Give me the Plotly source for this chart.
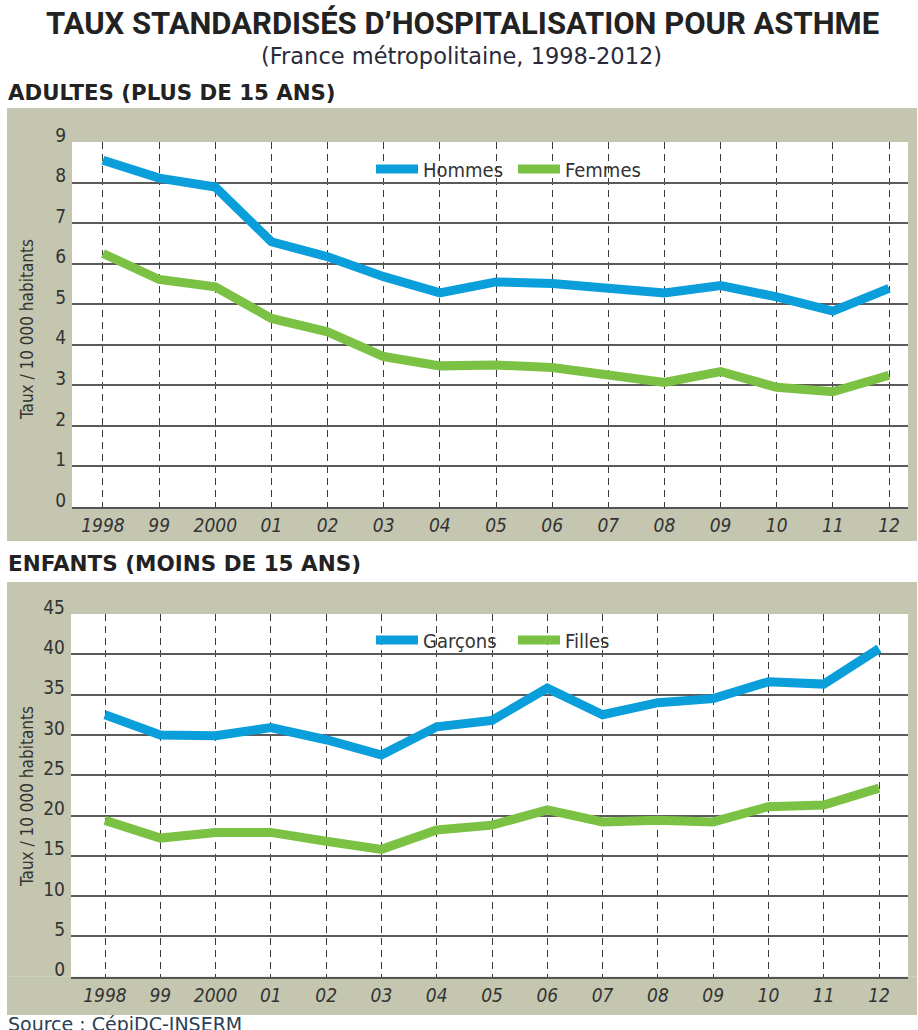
import plotly.graph_objects as go

# ---------------- data ----------------
years = list(range(1998, 2013))
year_labels = ["1998", "99", "2000", "01", "02", "03", "04", "05", "06", "07", "08", "09", "10", "11", "12"]

hommes = [8.55, 8.11, 7.89, 6.54, 6.17, 5.68, 5.28, 5.55, 5.51, 5.37, 5.28, 5.46, 5.18, 4.83, 5.39]
femmes = [6.25, 5.61, 5.43, 4.65, 4.32, 3.71, 3.48, 3.50, 3.44, 3.27, 3.07, 3.34, 2.95, 2.84, 3.25]

garcons = [32.5, 30.0, 29.9, 30.9, 29.4, 27.5, 31.0, 31.8, 35.8, 32.5, 34.0, 34.5, 36.6, 36.3, 40.7]
filles = [19.4, 17.2, 17.9, 17.9, 16.8, 15.8, 18.2, 18.8, 20.7, 19.2, 19.4, 19.2, 21.1, 21.3, 23.4]

adult_yticks = list(range(0, 10))
child_yticks = list(range(0, 50, 5))

# ---------------- style ----------------
W, H = 918, 1030
BLUE = "#0a9edb"
GREEN = "#7bc143"
PANEL = "#c4c6b0"
NARROW = "DejaVu Sans Condensed, sans-serif"
TXT = "#333333"

def px_x(p):
    return p / W

def px_y(p):
    return 1 - p / H

# plotting-area boxes in pixels: (left, right, top, bottom)
BOX1 = (72, 908, 142, 507)
BOX2 = (71, 908, 614, 976.7)
# gray frames in pixels
FRAME1 = (7, 917, 108, 541)
FRAME2 = (7, 917, 582, 1015)

def dom(box):
    l, r, t, b = box
    return [px_x(l), px_x(r)], [px_y(b), px_y(t)]

X1_DOM, Y1_DOM = dom(BOX1)
X2_DOM, Y2_DOM = dom(BOX2)

fig = go.Figure()

fig.add_trace(go.Scatter(x=years, y=hommes, name="Hommes", mode="lines",
                         line=dict(color=BLUE, width=9), xaxis="x", yaxis="y", legend="legend"))
fig.add_trace(go.Scatter(x=years, y=femmes, name="Femmes", mode="lines",
                         line=dict(color=GREEN, width=9), xaxis="x", yaxis="y", legend="legend"))
fig.add_trace(go.Scatter(x=years, y=garcons, name="Garçons", mode="lines",
                         line=dict(color=BLUE, width=9), xaxis="x2", yaxis="y2", legend="legend2"))
fig.add_trace(go.Scatter(x=years, y=filles, name="Filles", mode="lines",
                         line=dict(color=GREEN, width=9), xaxis="x2", yaxis="y2", legend="legend2"))

xcommon = dict(
    tickmode="array", tickvals=years, ticktext=year_labels,
    showgrid=True, gridcolor="#3a3a3a", gridwidth=1.3, griddash="7px,5px",
    zeroline=False, showline=True, linecolor="#555555", linewidth=2,
    ticks="", automargin=False,
    tickfont=dict(family=NARROW, size=19, color=TXT, style="italic"),
)
ycommon = dict(
    showgrid=True, gridcolor="#5a5a5a", gridwidth=1.6, zeroline=False,
    showline=False, ticks="", ticklabelstandoff=5, ticklabelshift=-7, automargin=False,
    tickfont=dict(family=NARROW, size=19, color=TXT),
)

legend_common = dict(orientation="h", xanchor="left", yanchor="middle",
                     bgcolor="rgba(0,0,0,0)", font=dict(family=NARROW, size=20, color=TXT),
                     entrywidth=85, itemwidth=42)

fig.update_layout(
    template="none",
    width=W, height=H,
    margin=dict(l=0, r=0, t=0, b=0, autoexpand=False),
    paper_bgcolor="#ffffff", plot_bgcolor="white",
    xaxis=dict(domain=X1_DOM, range=[1997.448, 2012.338], anchor="y", **xcommon),
    yaxis=dict(domain=Y1_DOM, range=[0, 9], tickvals=adult_yticks, anchor="x", **ycommon),
    xaxis2=dict(domain=X2_DOM, range=[1997.385, 2012.524], anchor="y2", **xcommon),
    yaxis2=dict(domain=Y2_DOM, range=[0, 45], tickvals=child_yticks, anchor="x2", **ycommon),
    legend=dict(x=px_x(371), y=px_y(169), **legend_common),
    legend2=dict(x=px_x(371), y=px_y(640), **legend_common),
    showlegend=True,
)

# gray frames drawn as four strips around each plotting area (never over it)
def frame_strips(frame, box):
    fl, fr, ft, fb = frame
    bl, br, bt, bb = box
    return [
        (fl, fr, ft, bt),   # top strip
        (fl, fr, bb, fb),   # bottom strip
        (fl, bl, bt, bb),   # left strip
        (br, fr, bt, bb),   # right strip
    ]

for frame, box in ((FRAME1, BOX1), (FRAME2, BOX2)):
    for l, r, t, b in frame_strips(frame, box):
        fig.add_shape(type="rect", xref="paper", yref="paper", layer="below",
                      x0=px_x(l), x1=px_x(r), y0=px_y(b), y1=px_y(t),
                      fillcolor=PANEL, line=dict(width=0))

ann = []
ann.append(dict(text="<b>TAUX STANDARDISÉS D’HOSPITALISATION POUR ASTHME</b>",
                x=px_x(462), y=px_y(23), xanchor="center", yanchor="middle",
                font=dict(family="Roboto, sans-serif", size=31, color="#222222")))
ann.append(dict(text="(France métropolitaine, 1998-2012)",
                x=px_x(461), y=px_y(56), xanchor="center", yanchor="middle",
                font=dict(family="DejaVu Sans, sans-serif", size=22.5, color="#2a2a3a")))
ann.append(dict(text="<b>ADULTES (PLUS DE 15 ANS)</b>",
                x=px_x(6), y=px_y(93), xanchor="left", yanchor="middle",
                font=dict(family="DejaVu Sans, sans-serif", size=21.3, color="#222222")))
ann.append(dict(text="<b>ENFANTS (MOINS DE 15 ANS)</b>",
                x=px_x(6), y=px_y(563), xanchor="left", yanchor="middle",
                font=dict(family="DejaVu Sans, sans-serif", size=21.5, color="#222222")))
ann.append(dict(text="Source : CépiDC-INSERM",
                x=px_x(6), y=px_y(1024), xanchor="left", yanchor="middle",
                font=dict(family="DejaVu Sans, sans-serif", size=19, color="#2c3e55")))
for yc in (330, 797):
    ann.append(dict(text="Taux / 10 000 habitants", textangle=-90,
                    x=px_x(27), y=px_y(yc), xanchor="center", yanchor="middle",
                    font=dict(family=NARROW, size=17, color=TXT)))
for a in ann:
    a.update(xref="paper", yref="paper", showarrow=False)
fig.update_layout(annotations=ann)

fig.write_html(
    "out.html",
    config={"displayModeBar": False},
    post_script="document.body.style.margin='0';document.body.style.overflow='hidden';",
)
